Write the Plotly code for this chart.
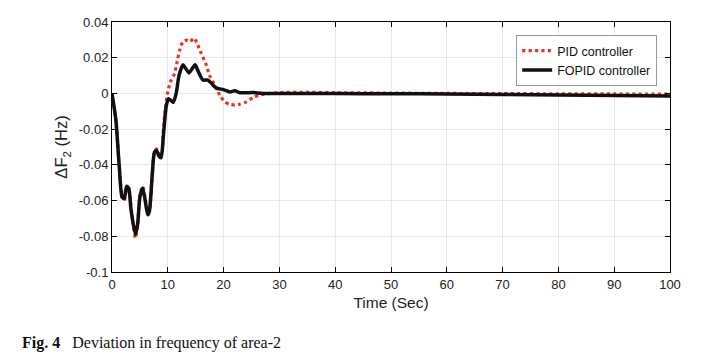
import plotly.graph_objects as go

t_pid = [0, 0.7, 1.3, 1.8, 2.2, 2.6, 3.0, 3.5, 4.2, 4.6, 5.0, 5.5, 6.0, 6.4, 6.8, 7.2, 7.6, 8.0, 8.5, 8.9,
         9.2, 9.6, 10.0, 10.6, 11.2, 11.6, 12.1, 12.7, 13.4, 14.0, 14.7, 15.4, 16.0, 16.8, 17.5, 18.4,
         19.3, 20.2, 21.1, 22.0, 22.9, 24.1, 25.3, 26.5, 28.3, 30.7, 35, 40, 50, 60, 70, 80, 90, 100]
f_pid = [0, -0.015, -0.041, -0.058, -0.060, -0.054, -0.054, -0.066, -0.081, -0.074, -0.057, -0.052, -0.060, -0.067, -0.064,
         -0.045, -0.033, -0.031, -0.034, -0.034, -0.0205, -0.0075, 0.001, 0.0075, 0.011, 0.0167, 0.024, 0.029,
         0.0298, 0.029, 0.031, 0.027, 0.0223, 0.0167, 0.010, 0.0047, -0.0009, -0.0047, -0.0061, -0.0065,
         -0.006, -0.0047, -0.0022, -0.0009, 0.0, 0.0005, 0.0006, 0.0004, 0.0002, 0.0, -0.0001, -0.0002, -0.0003, -0.0004]

t_fopid = [0, 0.7, 1.3, 1.8, 2.2, 2.6, 3.0, 3.4, 4.2, 4.6, 5.0, 5.5, 6.0, 6.4, 6.7, 7.2, 7.6, 8.0, 8.4, 8.8,
           9.2, 9.7, 10.1, 10.6, 11.0, 11.5, 12.0, 12.7, 13.2, 13.8, 14.4, 14.9, 15.5, 16.3, 17.2, 18.1,
           18.7, 19.6, 20.2, 21.1, 22.0, 22.9, 24.1, 25.3, 27, 33.6, 40, 50, 60, 70, 80, 90, 100]
f_fopid = [0, -0.015, -0.041, -0.058, -0.059, -0.052, -0.053, -0.065, -0.079, -0.073, -0.058, -0.053, -0.061, -0.068,
           -0.066, -0.046, -0.033, -0.032, -0.035, -0.036, -0.024, -0.0075, -0.003, -0.004, -0.005, 0.0, 0.010,
           0.016, 0.014, 0.0115, 0.014, 0.016, 0.012, 0.0075, 0.0075, 0.0047, 0.003, 0.0024, 0.0019, 0.0008,
           0.0015, 0.0004, 0.0004, 0.0005, 0.0, 0.0, -0.0001, -0.0002, -0.0003, -0.0006, -0.0009, -0.0012, -0.0015]

x_ticks = [0, 10, 20, 30, 40, 50, 60, 70, 80, 90, 100]
y_ticks = [0.04, 0.02, 0, -0.02, -0.04, -0.06, -0.08, -0.1]
y_labels = ["0.04", "0.02", "0", "-0.02", "-0.04", "-0.06", "-0.08", "-0.1"]

fig = go.Figure()
fig.add_trace(go.Scatter(x=t_pid, y=f_pid, mode="lines", name="PID controller",
                         line=dict(color="#e8332b", width=3.2, dash="dot", shape="spline", smoothing=0.6)))
fig.add_trace(go.Scatter(x=t_fopid, y=f_fopid, mode="lines", name="FOPID controller",
                         line=dict(color="#111111", width=3.5, shape="spline", smoothing=0.6)))

axis_common = dict(showline=True, linecolor="black", linewidth=1, mirror="ticks", ticks="inside",
                   ticklen=5, tickcolor="black", showgrid=True, gridcolor="#e8e8e8", gridwidth=1,
                   zeroline=False, tickfont=dict(family="Liberation Sans, Arial", size=13, color="#222"))

fig.update_xaxes(range=[0, 100], tickvals=x_ticks,
                 title=dict(text="Time (Sec)", font=dict(family="Liberation Sans, Arial", size=15.5, color="#222"),
                            standoff=6), **axis_common)
fig.update_yaxes(range=[-0.1, 0.04], tickvals=y_ticks, ticktext=y_labels,
                 title=dict(text="ΔF<sub>2</sub> (Hz)", font=dict(family="Liberation Sans, Arial", size=16.5, color="#222"),
                            standoff=6), **axis_common)

fig.update_layout(
    width=710, height=346,
    margin=dict(l=104, r=48, t=14, b=82, autoexpand=False),
    plot_bgcolor="white", paper_bgcolor="white",
    showlegend=True,
    legend=dict(x=0.977, y=0.948, xanchor="right", yanchor="top",
                bgcolor="white", bordercolor="#999", borderwidth=1,
                font=dict(family="Liberation Sans, Arial", size=12.5, color="#111"),
                tracegroupgap=0, itemwidth=30),
)

fig.add_annotation(xref="paper", yref="paper", x=-0.165, y=-0.283, xanchor="left", yanchor="middle",
                   showarrow=False,
                   text="<b>Fig. 4</b>&nbsp;&nbsp;&nbsp;Deviation in frequency of area-2",
                   font=dict(family="Liberation Serif, Times New Roman, serif", size=16, color="#111"))

fig.write_html("out.html")
